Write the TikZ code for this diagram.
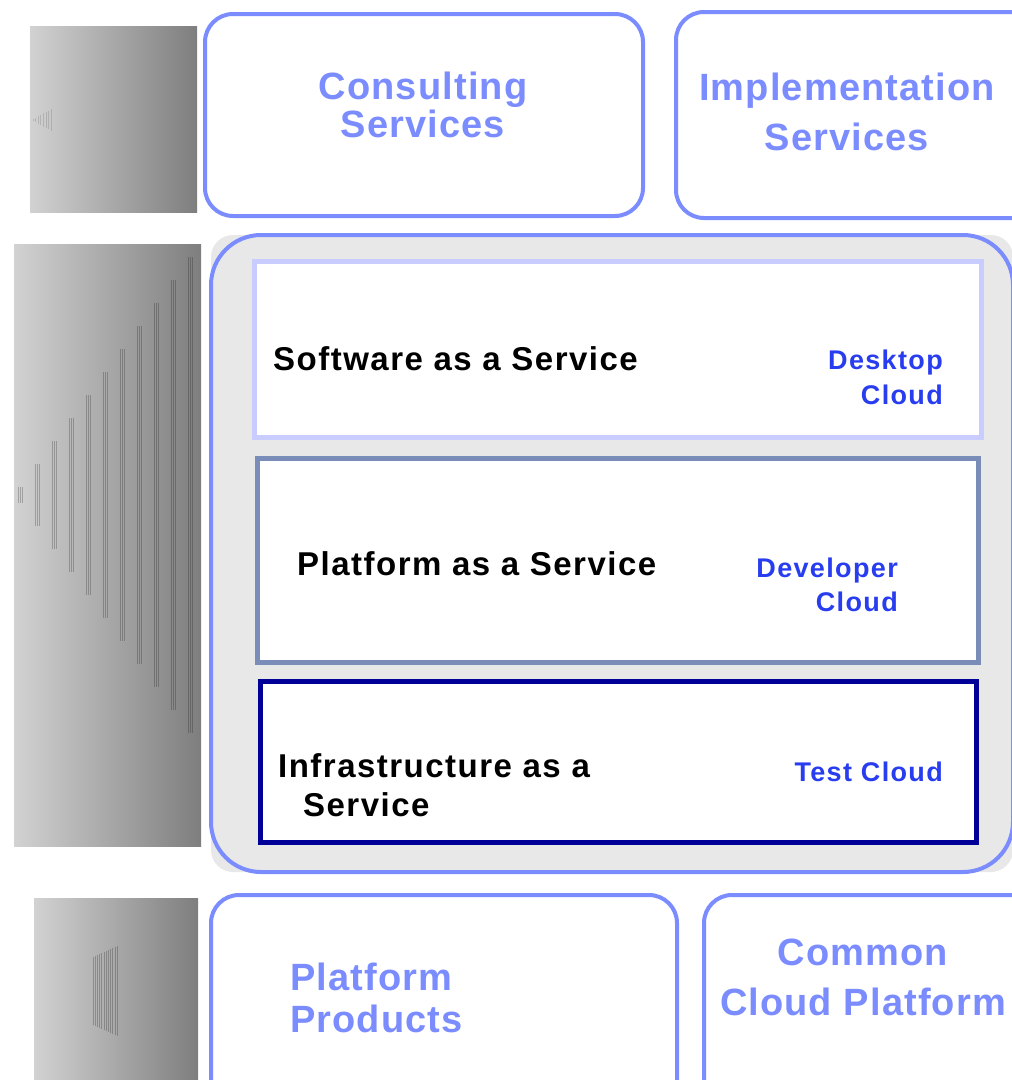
\documentclass[tikz,border=0pt]{standalone}
\usepackage{fontspec}
\setmainfont{Liberation Sans}[LetterSpace=5]
\newfontfamily\svcfont{Liberation Sans}[LetterSpace=3]
\newfontfamily\layerfont{Liberation Sans}[LetterSpace=4.5]
\usepackage{tikz}

\definecolor{svcblue}{RGB}{123,140,255}
\definecolor{cloudblue}{RGB}{40,60,240}
\definecolor{panelgray}{RGB}{232,232,232}
\definecolor{saasline}{RGB}{200,204,255}
\definecolor{paasline}{RGB}{122,140,184}
\definecolor{iaasline}{RGB}{0,0,153}
\definecolor{barlight}{RGB}{210,210,210}
\definecolor{bardark}{RGB}{126,126,126}

\tikzset{
	svcbox/.style={draw=svcblue, line width=4pt, rounded corners=28pt, fill=white},
	svctext/.style={text=svcblue, inner sep=0pt, font=\svcfont\bfseries\fontsize{38}{#1}\selectfont},
	layerbox/.style={draw=#1, line width=5pt, fill=white},
	layertext/.style={inner sep=0pt, align=left, font=\layerfont\bfseries\fontsize{33}{39}\selectfont},
	cloudtext/.style={text=cloudblue, inner sep=0pt, align=right, font=\bfseries\fontsize{27}{#1}\selectfont},
	sidebar/.style={left color=barlight, right color=bardark},
	barline/.style={draw=black, opacity=.22, line width=.7pt}
}

\begin{document}
\begin{tikzpicture}[x=1pt, y=-1pt]
			\useasboundingbox (0,0) rectangle (1012,1080);
			\clip (0,0) rectangle (1012,1080);

			\shade[sidebar] (30,26) rectangle (197,212);
			\foreach \k in {0,...,7}
				\draw[barline, opacity=.12] ({33+2.6*\k},{119-1.4*\k}) -- ++(0,{2+2.8*\k});

			\shade[sidebar] (14,244) rectangle (201,846);
			\foreach \i in {0,...,10}
				\foreach \d in {0,2,4}
					\draw[barline] ({18+17*\i+\d},{487-23*\i}) -- ++(0,{16+46*\i});

			\shade[sidebar] (34,898) rectangle (198,1085);
			\foreach \k in {0,...,11}
				\draw[barline] ({93+2.2*\k},{957-\k}) -- ++(0,{68+2*\k});

			\draw[svcbox] (205,14) rectangle (643,216);
			\node[svctext=38, align=center, anchor=north] (consult) at (423,72) {Consulting\\Services};

			\draw[svcbox] (676,12) rectangle (1045,218);
			\node[svctext=50, align=center, anchor=north] (implement) at (847,73) {Implementation\\Services};

			\fill[panelgray, rounded corners=22pt] (211,235) rectangle (1013,872);
			\draw[svcblue, line width=4pt, rounded corners=50pt] (211,235) rectangle (1013,872);

			\draw[layerbox=saasline] (254,261) rectangle (981,437);
			\node[layertext, anchor=base west] (saas) at (273,370) {Software as a Service};
			\node[cloudtext=35, anchor=north east] (desktop) at (943,350) {Desktop\\Cloud};

			\draw[layerbox=paasline] (257,458) rectangle (978,662);
			\node[layertext, anchor=base west] (paas) at (297,575) {Platform as a Service};
			\node[cloudtext=34, anchor=north east] (developer) at (898,558) {Developer\\Cloud};

			\draw[layerbox=iaasline] (260,681) rectangle (976,842);
			\node[layertext, anchor=north west] (iaas) at (278,753) {Infrastructure as a\\\hspace*{25pt}Service};
			\node[cloudtext=34, anchor=base east] (testcloud) at (943,781) {Test Cloud};

			\draw[svcbox] (211,895) rectangle (677,1110);
			\node[svctext=42, align=left, anchor=north west] (products) at (290,963) {Platform\\Products};

			\draw[svcbox] (704,895) rectangle (1045,1110);
			\node[svctext=50, align=center, anchor=north] (common) at (863,939) {Common\\Cloud Platform};
		\end{tikzpicture}
\end{document}
